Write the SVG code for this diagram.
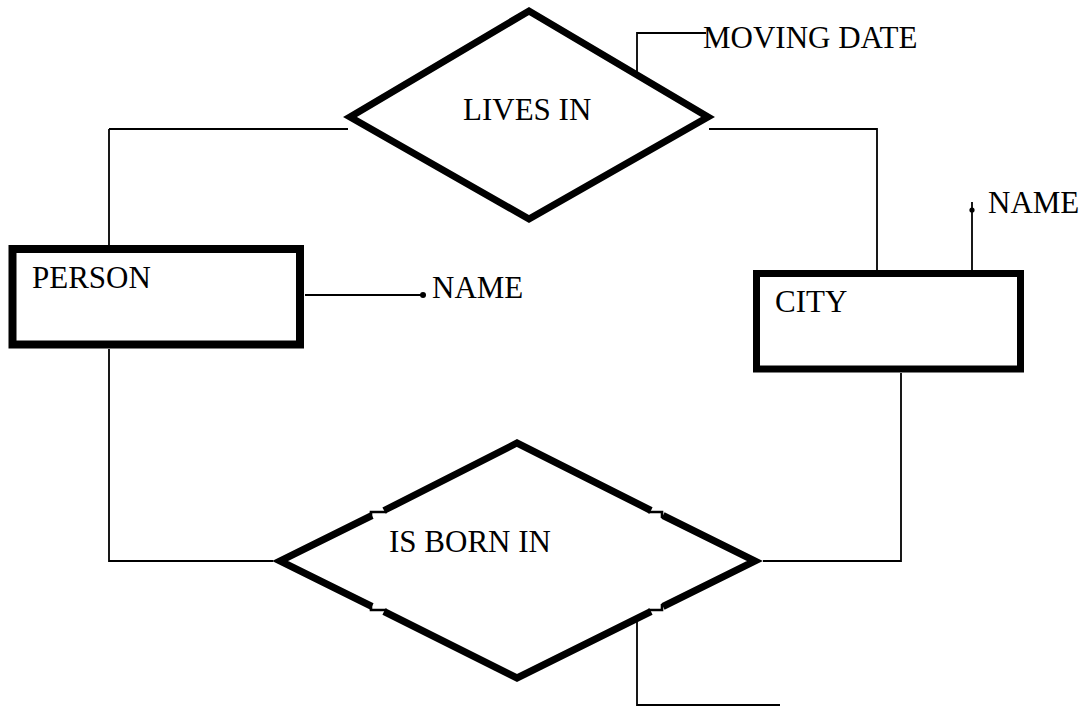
<svg xmlns="http://www.w3.org/2000/svg" width="1086" height="707" viewBox="0 0 1086 707">
  <style>
    .entity { fill: #ffffff; stroke: #000000; stroke-width: 8; }
    .rel { fill: #ffffff; stroke: #000000; stroke-width: 7; stroke-linejoin: miter; }
    .thick { fill: none; stroke: #000000; stroke-width: 7; stroke-linecap: butt; stroke-linejoin: miter; }
    .notch { fill: none; stroke: #000000; stroke-width: 2.6; }
    .link { fill: none; stroke: #000000; stroke-width: 1.8; }
    .dot { fill: #000000; }
    text { font-family: "Liberation Serif", "Times New Roman", serif; font-size: 31px; fill: #000000; }
  </style>
  <rect width="1086" height="707" fill="#ffffff"/>

  <!-- connectors -->
  <g id="connectors">
    <path class="link" d="M109 129 H348 M109 129 V245"/>
    <path class="link" d="M109 349 V561 H273"/>
    <path class="link" d="M709 129 H877 V270"/>
    <path class="link" d="M901 373 V561 H763"/>
    <path class="link" d="M305 295 H423"/>
    <circle class="dot" cx="423" cy="295" r="3"/>
    <path class="link" d="M972 270 V202"/>
    <circle class="dot" cx="972" cy="210" r="2.6"/>
    <path class="link" d="M637 80 V33 H706"/>
    <path class="link" d="M637 610 V705 H780"/>
  </g>

  <!-- relationship: LIVES IN -->
  <g id="lives-in">
    <polygon class="rel" points="350,117 529,11 708,117 529,219"/>
    <text x="463" y="120">LIVES IN</text>
  </g>

  <!-- attribute: MOVING DATE -->
  <g id="moving-date">
    <text x="703" y="48">MOVING DATE</text>
  </g>

  <!-- entity: PERSON -->
  <g id="person">
    <rect class="entity" x="12.5" y="249" width="287.5" height="95.5"/>
    <text x="32" y="288">PERSON</text>
  </g>

  <!-- attribute: person NAME -->
  <g id="person-name">
    <text x="432" y="298">NAME</text>
  </g>

  <!-- entity: CITY -->
  <g id="city">
    <rect class="entity" x="756.5" y="273.5" width="264" height="95.5" style="stroke-width:7"/>
    <text x="775" y="312">CITY</text>
  </g>

  <!-- attribute: city NAME -->
  <g id="city-name">
    <text x="988" y="213">NAME</text>
  </g>

  <!-- relationship: IS BORN IN (outline broken by small steps on each edge) -->
  <g id="is-born-in">
    <polygon points="280,561 517,443 755,561 517,678" fill="#ffffff"/>
    <path class="thick" d="M372 515.5 L280 561 L372 606.5"/>
    <path class="thick" d="M384 510.5 L517 443 L651 510.5"/>
    <path class="thick" d="M663 515.5 L755 561 L663 606.5"/>
    <path class="thick" d="M384 611.5 L517 678 L651 611.5"/>
    <path class="notch" d="M371 518 V512 H387 M648 512 H662 V518 M371 604 V610 H387 M648 610 H662 V604"/>
    <text x="389" y="552">IS BORN IN</text>
  </g>
</svg>
